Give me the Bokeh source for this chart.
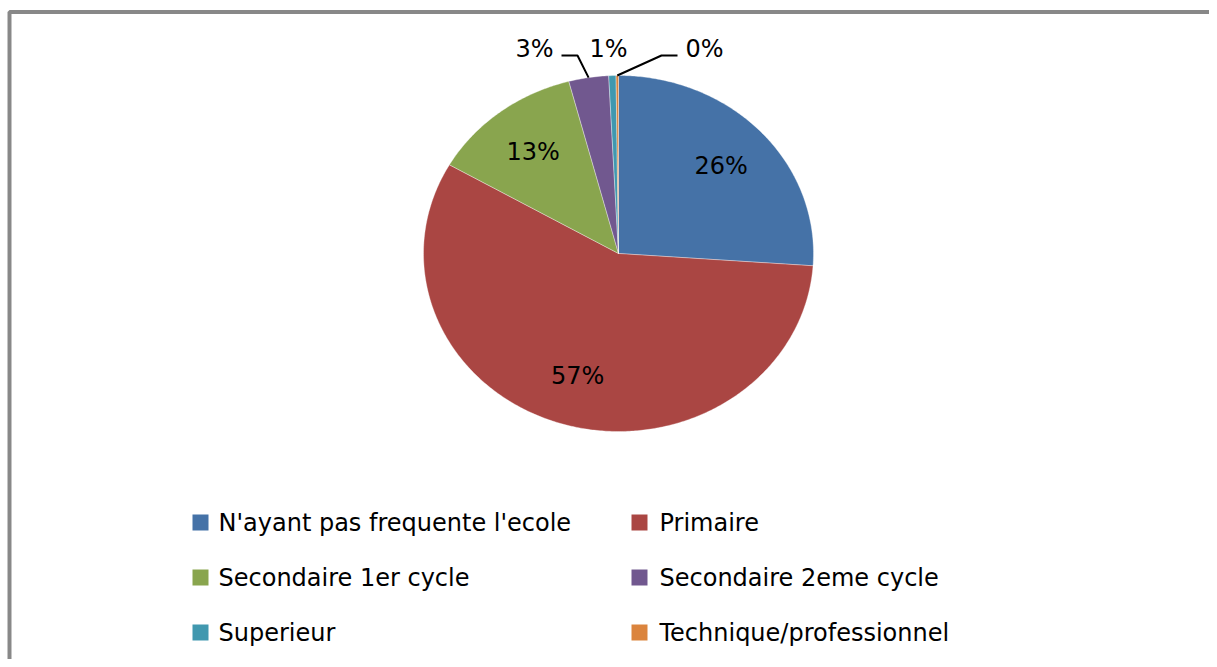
import numpy as np
from bokeh.plotting import figure
from bokeh.models import Range1d, BoxAnnotation
from bokeh.core.properties import value
from bokeh.embed import file_html
from bokeh.resources import INLINE

# ---- data ----
categories = ["N'ayant pas frequente l'ecole", "Primaire", "Secondaire 1er cycle",
              "Secondaire 2eme cycle", "Superieur", "Technique/professionnel"]
shares = [26.1, 57.2, 12.6, 3.3, 0.6, 0.2]
colors = ["#4572A7", "#AA4643", "#89A54E", "#71588F", "#4198AF", "#DB843D"]

# ---- layout (pixel-like data space) ----
W, H = 1209, 659
CX, CY, RX, RY = 618, 253, 195, 178
FONT = "DejaVu Sans"
LABEL_R = 0.72
OUT_Y = 48
OUT_DX = [-84, -10, 86]          # horizontal spread of the small outside labels
LEG_ROWS = [522, 577, 632]
LEG_SQ_X = [200, 639]
LEG_TX_X = [218, 659]

p = figure(width=W, height=H, output_backend="svg", toolbar_location=None,
           x_range=Range1d(0, W), y_range=Range1d(H, 0),
           x_axis_location=None, y_axis_location=None, min_border=0)
p.grid.visible = False
p.outline_line_color = None
p.background_fill_color = "white"
p.border_fill_color = "white"

total = float(sum(shares))
fr = np.array(shares) / total
ends = np.cumsum(fr) * 2 * np.pi
starts = ends - fr * 2 * np.pi


def pt(theta, r=1.0):
    return CX + r * RX * np.sin(theta), CY - r * RY * np.cos(theta)


xs, ys = [], []
for s, e in zip(starts, ends):
    t = np.linspace(s, e, max(3, int((e - s) / 0.01)))
    x, y = pt(t)
    xs.append([CX] + list(x))
    ys.append([CY] + list(y))
p.patches(xs, ys, fill_color=colors, line_color="white", line_width=0.5, line_alpha=0.7)

labels = [f"{v / total * 100:.0f}%" for v in shares]
mids = (starts + ends) / 2
in_idx = [i for i, f in enumerate(fr) if f >= 0.05]
out_idx = [i for i, f in enumerate(fr) if f < 0.05]

ix, iy = pt(mids[in_idx], LABEL_R)
p.text(list(ix), list(iy), text=[labels[i] for i in in_idx],
       text_font=value(FONT), text_font_size=value("24px"), text_color="black",
       text_align="center", text_baseline="middle")

ox = [CX + d for d in OUT_DX]
oy = [OUT_Y] * len(out_idx)
p.text(ox, oy, text=[labels[i] for i in out_idx],
       text_font=value(FONT), text_font_size=value("24px"), text_color="black",
       text_align="center", text_baseline="middle")

# leader lines for the spread-out labels
for k, i in enumerate(out_idx):
    d = OUT_DX[k]
    if abs(d) < 40:
        continue
    ex, ey = pt(mids[i], 1.0)
    sgn = 1 if d < 0 else -1
    x0 = ox[k] + sgn * 27
    x1 = x0 + sgn * 16
    p.line([x0, x1, ex], [OUT_Y + 7, OUT_Y + 7, ey], line_color="black", line_width=2)

# legend (two columns)
lx = [LEG_SQ_X[i % 2] for i in range(len(categories))]
ly = [LEG_ROWS[i // 2] for i in range(len(categories))]
tx = [LEG_TX_X[i % 2] for i in range(len(categories))]
p.scatter(lx, ly, marker="square", size=16, fill_color=colors, line_color=None)
p.text(tx, ly, text=categories, text_font=value(FONT), text_font_size=value("24px"),
       text_color="black", text_align="left", text_baseline="middle")

# chart frame: only its left and top edges fall inside the picture
p.add_layout(BoxAnnotation(left=9, top=11.5, right=W + 20, bottom=H + 20,
                           fill_alpha=0, line_color="#888888", line_alpha=1.0,
                           line_width=4))

open("out.html", "w").write(file_html(p, INLINE))
